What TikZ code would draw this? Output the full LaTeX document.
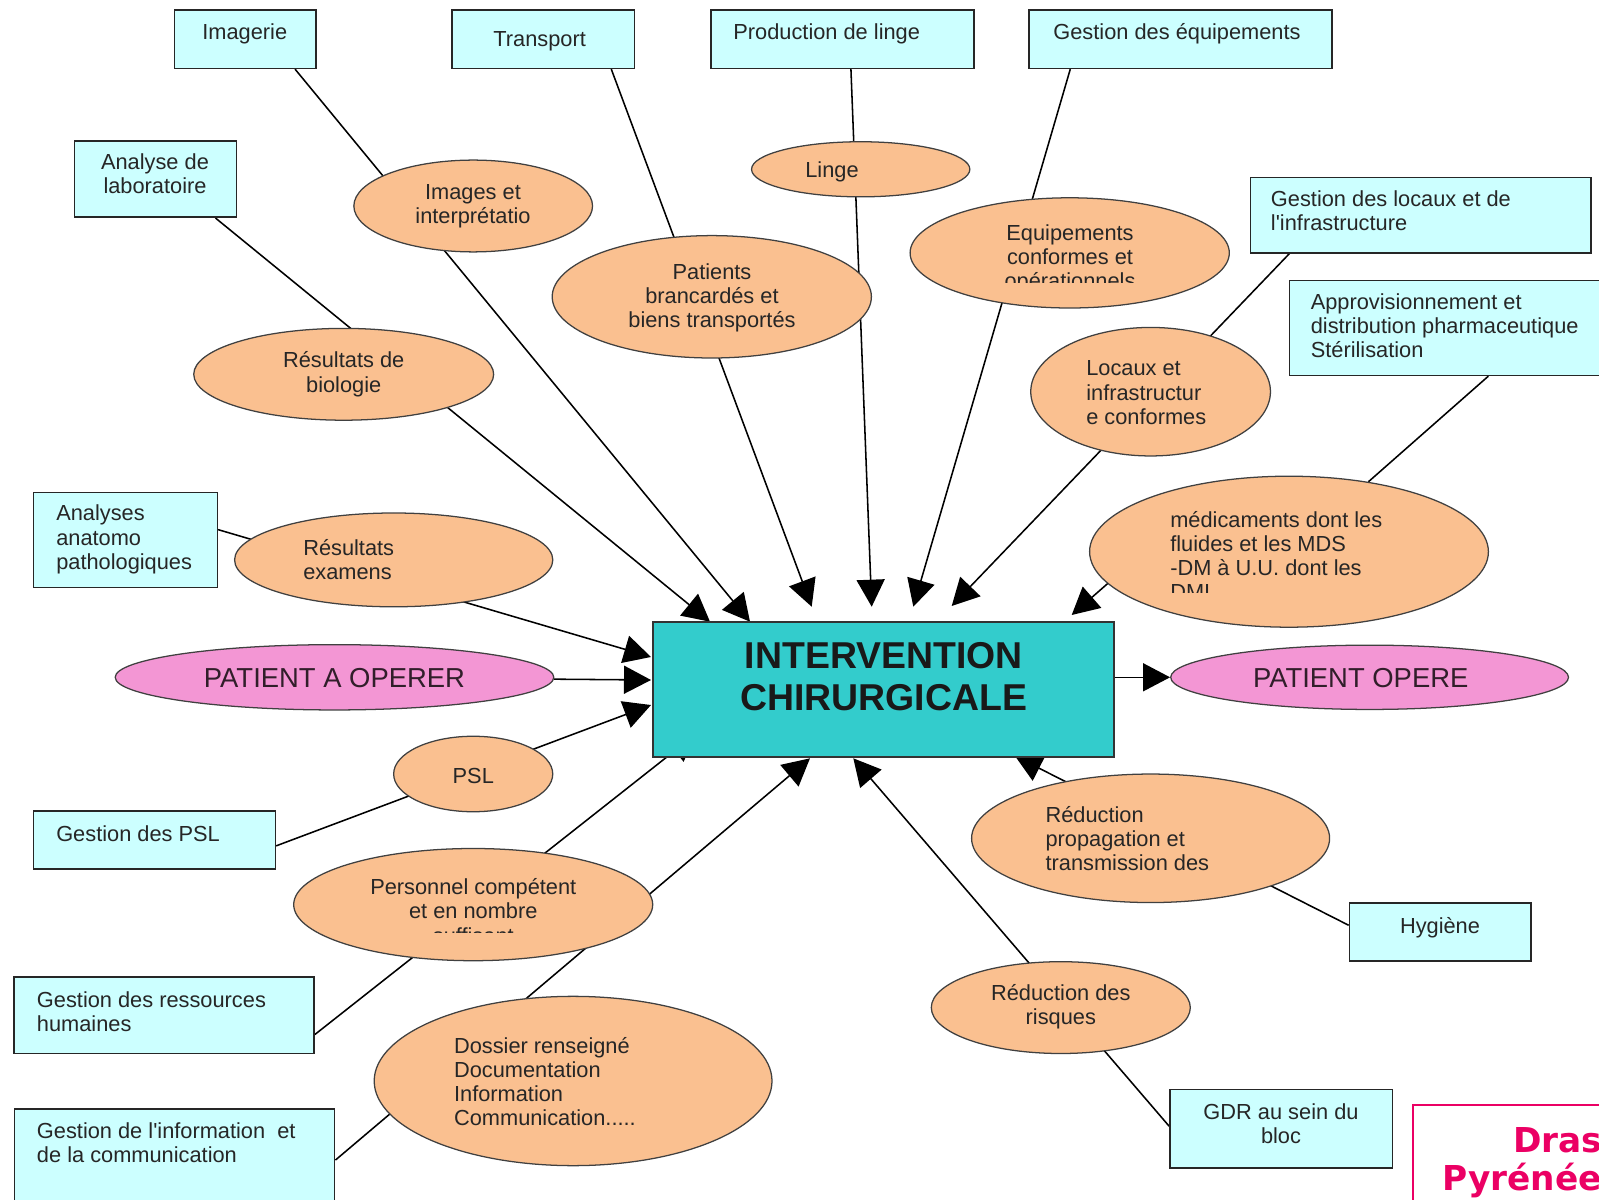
\documentclass[tikz,border=0pt]{standalone}
\usepackage{fontspec}
\setmainfont{Liberation Sans}
\newfontfamily\drasfont{DejaVu Sans}
\usetikzlibrary{shapes.geometric,arrows.meta,backgrounds}

\definecolor{cyanbox}{RGB}{204,255,255}
\definecolor{orangefill}{RGB}{250,192,144}
\definecolor{pinkfill}{RGB}{243,150,212}
\definecolor{tealfill}{RGB}{51,204,204}
\definecolor{drascol}{RGB}{235,0,100}

\tikzset{
  box/.style 2 args={draw=black!85, line width=1.1pt, fill=cyanbox,
    minimum width=#1*0.025cm, minimum height=#2*0.025cm, inner sep=0pt},
  ell/.style 2 args={ellipse, draw=black!75, line width=0.9pt, fill=orangefill,
    minimum width=#1*0.025cm, minimum height=#2*0.025cm, inner sep=0pt},
  pinkell/.style 2 args={ell={#1}{#2}, fill=pinkfill},
  txt/.style={font=\fontsize{15.5}{17.2}\selectfont, text=black!85,
    inner sep=0pt, align=center},
  ltxt/.style={txt, align=left, anchor=west},
  bigtxt/.style={font=\fontsize{19.5}{22}\selectfont, text=black!80!pinkfill,
    inner sep=0pt},
  link/.style={line width=1.1pt, black},
  arr/.style={link, -{Triangle[length=0.675cm, width=0.7cm]}},
}

\begin{document}
\begin{tikzpicture}[x=0.025cm,y=-0.025cm]
\useasboundingbox (0,0) rectangle (1599,1200);
\clip (0,0) rectangle (1599,1200);

% services (boxes)
\node[box={141.8}{58.1}] (imagerie) at (245.3,39.3) {};
\node[box={182.5}{58.1}] (transport) at (543.2,39.3) {};
\node[box={263.2}{58.1}] (production) at (842.5,39.3) {};
\node[box={302.9}{58.1}] (gestequip) at (1180.7,39.3) {};
\node[box={162.1}{76.5}] (analyselabo) at (155.6,179) {};
\node[box={340.7}{75.5}] (gestlocaux) at (1420.9,215.2) {};
\node[box={330.7}{94.9}] (appro) at (1454.7,328) {};
\node[box={183.6}{94.8}] (anapath) at (125.5,540.1) {};
\node[box={241.7}{58.1}] (gestpsl) at (154.5,840) {};
\node[box={299.9}{76.5}] (grh) at (164.2,1015.4) {};
\node[box={320.3}{121.3}] (gestinfo) at (174.5,1169.4) {};
\node[box={181.5}{58.1}] (hygiene) at (1440.2,931.8) {};
\node[box={222.4}{78.5}] (gdr) at (1281.1,1128.6) {};
\node[draw=drascol, line width=1.2pt, fill=white, inner sep=0pt,
  minimum width=217.3*0.025cm, minimum height=125.3*0.025cm] (dras) at (1521.4,1167.4) {};

% resultats (ellipses)
\node[ell={238.7}{91.8}] (images) at (473.2,206) {};
\node[ell={218.3}{55.1}] (linge) at (860.7,169.3) {};
\node[ell={319.2}{122.4}] (patients) at (711.8,296.8) {};
\node[ell={319.2}{110.2}] (equip) at (1069.7,252.9) {};
\node[ell={299.9}{91.8}] (biologie) at (343.7,374.3) {};
\node[ell={239.7}{128.5}] (locaux) at (1150.6,391.7) {};
\node[ell={318.2}{93.8}] (examens) at (393.7,559.9) {};
\node[ell={398.8}{151}] (med) at (1289,551.7) {};
\node[ell={159.1}{75.5}] (psl) at (473.2,774) {};
\node[ell={359}{112.2}] (personnel) at (473.2,904.6) {};
\node[ell={397.8}{169.3}] (dossier) at (573.1,1081) {};
\node[ell={358}{128.5}] (propag) at (1150.6,838.3) {};
\node[ell={259}{91.8}] (risques) at (1060.8,1007.6) {};
\node[pinkell={438.6}{65.3}] (pao) at (334.5,677.3) {};
\node[pinkell={397.8}{64.3}] (po) at (1369.6,677.3) {};

% le bloc
\node[draw=black!80, line width=1.2pt, fill=tealfill, inner sep=0pt,
  minimum width=460.9*0.025cm, minimum height=134.7*0.025cm] (centre) at (883.2,689.4) {};

% arrow tips
\coordinate (tipbio) at (710,621.7);
\coordinate (tipimg) at (750,621.7);
\coordinate (tippat) at (811.7,606.7);
\coordinate (tiplin) at (871.7,606.7);
\coordinate (tipequ) at (913.3,606.7);
\coordinate (tiploc) at (951.7,606);
\coordinate (tipmed) at (1071.7,615);
\coordinate (tipexa) at (651,657);
\coordinate (tippao) at (651,680);
\coordinate (tippsl) at (651,705);
\coordinate (tipper) at (696,734);
\coordinate (tipdos) at (810,758.3);
\coordinate (tipris) at (853.3,758.3);
\coordinate (tippro) at (1015,756);

\begin{scope}[on background layer]
  \draw[arr] (imagerie.south west) ++(121.4,0) -- (tipimg);
  \draw[arr] (analyselabo.south west) ++(141.7,0) -- (tipbio);
  \draw[arr] (transport.south west) ++(160.1,0) -- (tippat);
  \draw[arr] (production.south west) ++(140.8,0) -- (tiplin);
  \draw[arr] (gestequip.south west) ++(41.8,0) -- (tipequ);
  \draw[arr] (gestlocaux.south west) ++(39.5,0) -- (tiploc);
  \draw[link] (appro.south west) ++(199.7,0) -- (med);
  \draw[arr] (anapath.north east) ++(0,37.7) -- (tipexa);
  \draw[arr] (gestpsl.north east) ++(0,35.7) -- (tippsl);
  \draw[arr] (grh.north east) ++(0,58.1) -- (tipper);
  \draw[arr] (gestinfo.north east) ++(0,52.1) -- (tipdos);
  \draw[arr] (gdr.north west) ++(0,37.6) -- (tipris);
  \draw[arr] (hygiene.north west) ++(0,23.3) -- (tippro);
\end{scope}
\draw[arr] (med.190) -- (tipmed);
\draw[arr] (pao) -- (tippao);
\draw[arr] (centre.east |- po.west) -- (po.west);

% texts
\node[txt] (t-imagerie) at (244.8,33.6) {Imagerie};
\node[txt] (t-transport) at (539.6,40.8) {Transport};
\node[txt] (t-production) at (826.7,33.6) {Production de linge};
\node[txt] (t-gestequip) at (1177,33.6) {Gestion des équipements};
\node[txt] (t-analyselabo) at (155,173.4) {Analyse de\\laboratoire};
\node[ltxt] (t-gestlocaux) at (1270.7,211) {Gestion des locaux et de\\l\textquotesingle infrastructure};
\node[ltxt] (t-appro) at (1310.5,326) {Approvisionnement et\\distribution pharmaceutique\\Stérilisation};
\node[ltxt] (t-anapath) at (56,539.5) {Analyses\\anatomo\\pathologiques};
\node[ltxt] (t-gestpsl) at (56,834) {Gestion des PSL};
\node[ltxt] (t-grh) at (36.7,1012) {Gestion des ressources\\humaines};
\node[ltxt] (t-gestinfo) at (36.7,1142.7) {Gestion de l\textquotesingle information\ \ et\\de la communication};
\node[txt] (t-hygiene) at (1440,928) {Hygiène};
\node[txt] (t-gdr) at (1281,1123.5) {GDR au sein du\\bloc};
\node[anchor=base west, inner sep=0pt, text=drascol,
  font=\drasfont\bfseries\fontsize{24.4}{28}\selectfont] (t-dras1) at (1513,1152) {Dras};
\node[anchor=base west, inner sep=0pt, text=drascol,
  font=\drasfont\bfseries\fontsize{24.4}{28}\selectfont] (t-dras2) at (1442,1190) {Pyrénée};

\node[txt] (t-images) at (473,206.5) {Images et\\interprétatio};
\node[txt] (t-linge) at (832,172.3) {Linge};
\node[txt] (t-patients) at (712,297.8) {Patients\\brancardés et\\biens transportés};
\begin{scope}
  \clip (950,200) rectangle (1200,283);
  \node[txt] (t-equip) at (1070,259) {Equipements\\conformes et\\opérationnels};
\end{scope}
\node[txt] (t-biologie) at (343.7,374.3) {Résultats de\\biologie};
\node[ltxt] (t-locaux) at (1086,392.7) {Locaux et\\infrastructur\\e conformes};
\node[ltxt] (t-examens) at (303,559.5) {Résultats\\examens};
\begin{scope}
  \clip (1150,500) rectangle (1450,593);
  \node[ltxt] (t-med) at (1170,555.5) {médicaments dont les\\fluides et les MDS\\-DM à U.U. dont les\\DMI};
\end{scope}
\node[txt] (t-psl) at (473.3,776) {PSL};
\begin{scope}
  \clip (330,860) rectangle (620,932);
  \node[txt] (t-personnel) at (473.3,911) {Personnel compétent\\et en nombre\\suffisant};
\end{scope}
\node[ltxt] (t-dossier) at (453.8,1081.6) {Dossier renseigné\\Documentation\\Information\\Communication.....};
\node[ltxt] (t-propag) at (1045.3,838.4) {Réduction\\propagation et\\transmission des};
\node[txt] (t-risques) at (1060.8,1007) {Réduction des\\risques};
\node[bigtxt] (t-pao) at (334.5,678.3) {PATIENT A OPERER};
\node[bigtxt] (t-po) at (1360.7,678.3) {PATIENT OPERE};
\node[txt, text=black!90, font=\bfseries\fontsize{26.6}{29.8}\selectfont] (t-centre) at (883.7,677) {INTERVENTION\\CHIRURGICALE};
\end{tikzpicture}
\end{document}
